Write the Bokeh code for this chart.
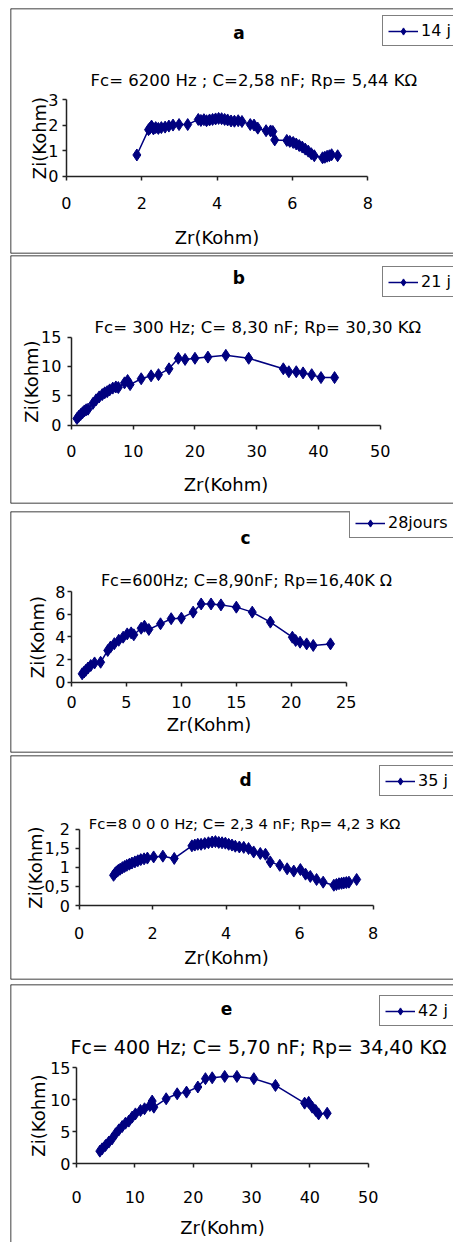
from bokeh.plotting import figure
from bokeh.layouts import column
from bokeh.models import (Label, Legend, LegendItem, FixedTicker, Range1d, Span,
                          CustomJSTickFormatter)
from bokeh.embed import file_html
from bokeh.resources import INLINE

# ---------------- data (Zr, Zi in kOhm) ----------------
a_zr = [1.87, 2.18, 2.22, 2.26, 2.31, 2.37, 2.44, 2.52, 2.62, 2.72, 2.83, 2.99, 3.22,
        3.50, 3.57, 3.65, 3.72, 3.80, 3.88, 3.96, 4.04, 4.12, 4.20, 4.28, 4.37, 4.46,
        4.56, 4.66, 4.88, 4.98, 5.08, 5.30, 5.42, 5.48, 5.53, 5.85, 5.93, 6.02, 6.10,
        6.18, 6.26, 6.34, 6.42, 6.50, 6.58, 6.80, 6.86, 6.92, 6.98, 7.04, 7.20]
a_zi = [0.83, 1.82, 1.88, 1.96, 1.85, 1.90, 1.87, 1.90, 1.92, 1.96, 2.00, 2.02, 2.02,
        2.22, 2.18, 2.21, 2.17, 2.20, 2.22, 2.24, 2.26, 2.25, 2.22, 2.20, 2.16, 2.15,
        2.17, 2.14, 2.02, 2.00, 1.88, 1.78, 1.77, 1.75, 1.42, 1.40, 1.36, 1.32, 1.26,
        1.20, 1.14, 1.06, 0.98, 0.88, 0.80, 0.72, 0.74, 0.78, 0.80, 0.84, 0.80]

b_zr = [0.9, 1.2, 1.5, 1.8, 2.1, 2.4, 2.7, 3.5, 4.0, 4.5, 5.0, 5.4, 5.8, 6.2, 6.7, 7.2,
        7.6, 8.6, 9.1, 9.5, 11.3, 12.9, 14.1, 15.8, 17.3, 18.4, 20.0, 22.1, 25.0, 28.7,
        34.3, 35.2, 36.4, 37.5, 38.9, 40.4, 42.6]
b_zi = [1.1, 1.5, 1.8, 2.1, 2.4, 2.6, 2.7, 3.7, 4.3, 4.8, 5.2, 5.5, 5.7, 6.0, 6.3, 6.5,
        6.4, 7.2, 7.6, 6.9, 7.9, 8.4, 8.6, 9.6, 11.4, 11.2, 11.4, 11.6, 11.9, 11.4,
        9.6, 9.1, 9.1, 8.9, 8.6, 8.1, 8.1]

c_zr = [0.97, 1.15, 1.3, 1.5, 1.75, 2.1, 2.65, 3.3, 3.55, 3.9, 4.3, 4.7, 5.07, 5.43,
        5.67, 6.34, 6.64, 7.04, 8.1, 9.07, 10.0, 11.07, 11.8, 12.7, 13.6, 15.0, 16.45,
        18.1, 20.1, 20.4, 20.8, 21.4, 22.0, 23.57]
c_zi = [0.74, 0.9, 1.05, 1.25, 1.47, 1.7, 1.76, 2.8, 3.1, 3.4, 3.7, 3.97, 4.26, 4.35,
        4.18, 4.76, 4.94, 4.65, 5.15, 5.6, 5.65, 6.18, 6.9, 6.9, 6.82, 6.62, 6.18,
        5.3, 3.97, 3.68, 3.53, 3.38, 3.24, 3.38]

d_zr = [0.94, 0.98, 1.02, 1.07, 1.12, 1.18, 1.24, 1.30, 1.37, 1.44, 1.52, 1.60, 1.68,
        1.77, 1.86, 2.03, 2.28, 2.59, 3.07, 3.15, 3.23, 3.32, 3.42, 3.52, 3.62, 3.71,
        3.80, 3.89, 3.98, 4.07, 4.16, 4.25, 4.36, 4.48, 4.61, 4.75, 4.93, 5.07, 5.20,
        5.46, 5.66, 5.84, 6.02, 6.16, 6.29, 6.46, 6.64, 6.93, 7.00, 7.07, 7.14, 7.20,
        7.27, 7.34, 7.55]
d_zi = [0.79, 0.84, 0.88, 0.92, 0.95, 0.99, 1.02, 1.05, 1.08, 1.11, 1.14, 1.17, 1.20,
        1.22, 1.24, 1.27, 1.29, 1.23, 1.56, 1.58, 1.60, 1.60, 1.62, 1.64, 1.66, 1.67,
        1.65, 1.64, 1.63, 1.60, 1.58, 1.55, 1.53, 1.52, 1.49, 1.40, 1.36, 1.34, 1.14,
        1.05, 0.96, 0.90, 0.94, 0.82, 0.76, 0.68, 0.61, 0.53, 0.55, 0.57, 0.58, 0.59,
        0.60, 0.61, 0.68]

e_zr = [4.0, 4.4, 4.97, 5.54, 6.1, 6.7, 7.26, 7.83, 8.4, 8.97, 9.54, 10.1, 10.97, 11.66,
        12.57, 12.97, 13.26, 15.37, 17.26, 18.86, 20.8, 22.1, 23.26, 25.4, 27.5, 30.4,
        34.1, 39.1, 39.8, 40.4, 41.0, 41.5, 42.97]
e_zi = [1.98, 2.34, 2.86, 3.39, 3.9, 4.7, 5.3, 5.83, 6.35, 6.67, 7.3, 7.8, 8.33, 8.6,
        9.1, 9.8, 8.85, 10.16, 10.94, 11.2, 12.0, 13.3, 13.44, 13.65, 13.65, 13.3,
        12.24, 9.48, 9.6, 8.85, 8.33, 7.8, 7.9]

panel_letters = ["a", "b", "c", "d", "e"]
series_names = ["14 j", "21 j", "28jours", "35 j", "42 j"]
subtitles = ["Fc= 6200 Hz ; C=2,58 nF; Rp= 5,44 K\u03a9",
             "Fc= 300 Hz; C= 8,30 nF; Rp= 30,30 K\u03a9",
             "Fc=600Hz; C=8,90nF; Rp=16,40K \u03a9",
             "Fc=8 0 0 0 Hz; C= 2,3 4 nF; Rp= 4,2 3 K\u03a9",
             "Fc= 400 Hz; C= 5,70 nF; Rp= 34,40 K\u03a9"]
x_ticks = [[0, 2, 4, 6, 8], [0, 10, 20, 30, 40, 50], [0, 5, 10, 15, 20, 25],
           [0, 2, 4, 6, 8], [0, 10, 20, 30, 40, 50]]
y_ticks = [[0, 1, 2, 3], [0, 5, 10, 15], [0, 2, 4, 6, 8],
           [0, 0.5, 1, 1.5, 2], [0, 5, 10, 15]]
x_label = "Zr(Kohm)"
y_label = "Zi(Kohm)"
all_zr = [a_zr, b_zr, c_zr, d_zr, e_zr]
all_zi = [a_zi, b_zi, c_zi, d_zi, e_zi]

# ---------------- layout / style (picture pixel coordinates) ----------------
NAVY = "#00007f"
FONT = "DejaVu Sans"
W = 453

layouts = [
    dict(top=0, h=254, mb=(7, 0, 8, 1), xp=(63.3, 366.7), yp=(175.7, 99.0),
         tpos=(237, 32), spos=(252, 80), ssize=16.5, leg_bottom=46, bottom_line=True,
         xts=17, xls=14, yts=4, yls=-5),
    dict(top=254, h=254, mb=(7, 0, 1, 5), xp=(68.3, 379.3), yp=(424.5, 336.7),
         tpos=(237, 277), spos=(256, 327), ssize=16.5, leg_bottom=297, bottom_line=True,
         xts=16, xls=13, yts=6, yls=-4),
    dict(top=508, h=246, mb=(10, 0, 3, 2), xp=(71.0, 345.7), yp=(681.7, 591.0),
         tpos=(245, 537), spos=(246, 580), ssize=16, leg_bottom=538, bottom_line=True,
         xts=10, xls=2, yts=2, yls=4),
    dict(top=754, h=227, mb=(10, 0, 1, 2), xp=(78.5, 372.7), yp=(905.0, 828.5),
         tpos=(245, 779), spos=(244, 823), ssize=14.8, leg_bottom=796, bottom_line=True,
         xts=17, xls=5, yts=5, yls=-4),
    dict(top=981, h=261, mb=(10, 0, 3, 0), xp=(76.0, 367.7), yp=(1163.3, 1067.3),
         tpos=(226, 1008), spos=(258, 1046), ssize=19, leg_bottom=1026, bottom_line=False,
         xts=23, xls=11, yts=2, yls=-2),
]

figs = []
for i, L in enumerate(layouts):
    mbl, mbr, mbt, mbb = L["mb"]
    fl = mbl
    fr = W - mbr
    ft = L["top"] + mbt
    fb = L["top"] + L["h"] - mbb
    xmax = x_ticks[i][-1]
    ymax = y_ticks[i][-1]
    kx = (L["xp"][1] - L["xp"][0]) / xmax
    ky = (L["yp"][0] - L["yp"][1]) / ymax

    def dx(px, x0=L["xp"][0], kx=kx):
        return (px - x0) / kx

    def dy(py, y0=L["yp"][0], ky=ky):
        return (y0 - py) / ky

    xr = Range1d(dx(fl), dx(fr))
    yr = Range1d(dy(fb), dy(ft))
    p = figure(width=W, height=L["h"], output_backend="svg", toolbar_location=None,
               title=None, x_range=xr, y_range=yr,
               min_border_left=mbl, min_border_right=mbr,
               min_border_top=mbt, min_border_bottom=mbb)
    p.outline_line_color = None
    p.grid.visible = False
    p.background_fill_color = "white"
    p.border_fill_color = "white"

    # panel (chart area) border: left, top and bottom edges
    p.add_layout(Span(location=xr.start, dimension="height",
                      line_color="black", line_width=1.5))
    p.add_layout(Span(location=yr.end, dimension="width",
                      line_color="black", line_width=1.5))
    if L["bottom_line"]:
        p.add_layout(Span(location=yr.start, dimension="width",
                          line_color="black", line_width=1.5))

    for ax, ticks, bnd, lab in ((p.xaxis[0], x_ticks[i], (0, xmax), x_label),
                                (p.yaxis[0], y_ticks[i], (0, ymax), y_label)):
        ax.fixed_location = 0
        ax.bounds = bnd
        ax.ticker = FixedTicker(ticks=ticks)
        ax.minor_tick_line_color = None
        ax.major_tick_in = 0
        ax.major_tick_out = 4
        ax.axis_line_color = "#222222"
        ax.axis_line_width = 1.5
        ax.major_tick_line_color = "#222222"
        ax.major_tick_line_width = 1.5
        ax.major_label_text_font = FONT
        ax.major_label_text_font_size = "16px"
        ax.major_label_text_color = "black"
        ax.axis_label = lab
        ax.axis_label_text_font = FONT
        ax.axis_label_text_font_size = "18px"
        ax.axis_label_text_font_style = "normal"
        ax.axis_label_text_color = "black"
    p.xaxis[0].major_label_standoff = L["xts"]
    p.xaxis[0].axis_label_standoff = L["xls"]
    p.yaxis[0].major_label_standoff = L["yts"]
    p.yaxis[0].axis_label_standoff = L["yls"]
    if i == 3:
        p.yaxis[0].formatter = CustomJSTickFormatter(
            code="return String(tick).replace('.', ',');")

    ln = p.line(all_zr[i], all_zi[i], line_color=NAVY, line_width=1.5)
    sc = p.scatter(all_zr[i], all_zi[i], marker="diamond", size=12,
                   fill_color=NAVY, line_color=NAVY)

    p.add_layout(Label(x=dx(L["tpos"][0]), y=dy(L["tpos"][1]), text=panel_letters[i],
                       text_align="center", text_baseline="middle",
                       text_font=FONT, text_font_size="17px",
                       text_font_style="bold", text_color="black"))
    p.add_layout(Label(x=dx(L["spos"][0]), y=dy(L["spos"][1]), text=subtitles[i],
                       text_align="center", text_baseline="middle",
                       text_font=FONT, text_font_size=f"{L['ssize']}px",
                       text_color="black"))

    est_w = 10 + 30 + 3 + (60 if len(series_names[i]) > 5 else 30)
    leg = Legend(items=[LegendItem(label=series_names[i], renderers=[ln, sc])],
                 location=(fr - fl - 1 - est_w, fb - L["leg_bottom"]),
                 margin=0, padding=5, spacing=0,
                 glyph_width=30, glyph_height=18, label_height=18,
                 label_standoff=3,
                 label_text_font=FONT, label_text_font_size="16px",
                 label_text_color="black",
                 border_line_color="black", border_line_width=1,
                 background_fill_color="white", background_fill_alpha=1)
    p.add_layout(leg)
    figs.append(p)

layout = column(*figs, spacing=0)
open("out.html", "w").write(file_html(layout, INLINE))
